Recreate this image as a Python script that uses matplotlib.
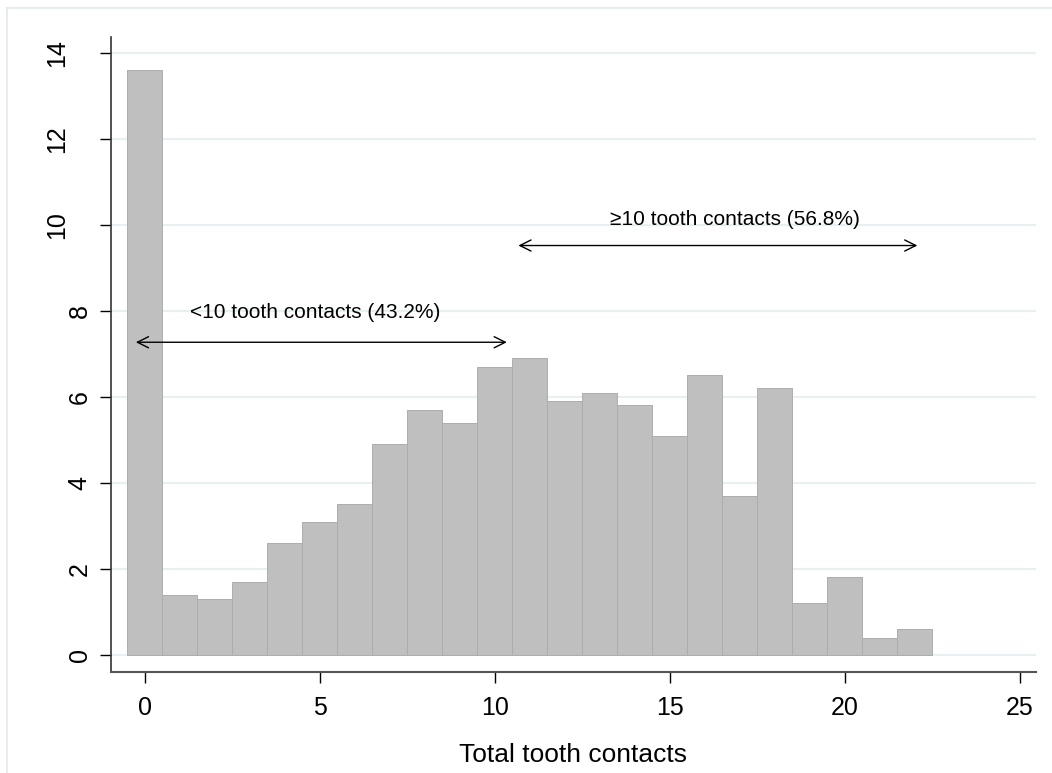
import matplotlib
matplotlib.use("Agg")
import matplotlib.pyplot as plt
from matplotlib.lines import Line2D
from matplotlib.transforms import offset_copy

plt.rcParams['font.family'] = ['Liberation Sans', 'DejaVu Sans']

# histogram of total tooth contacts (percent)
contacts = list(range(23))
percent = [13.6, 1.4, 1.3, 1.7, 2.6, 3.1, 3.5, 4.9, 5.7, 5.4, 6.7, 6.9,
           5.9, 6.1, 5.8, 5.1, 6.5, 3.7, 6.2, 1.2, 1.8, 0.4, 0.6]
xticks = [0, 5, 10, 15, 20, 25]
yticks = [0, 2, 4, 6, 8, 10, 12, 14]
label_lo = "<10 tooth contacts (43.2%)"
label_hi = "\u226510 tooth contacts (56.8%)"

fig = plt.figure(figsize=(10.52, 7.73), dpi=100)
ax = fig.add_axes([0.1055, 0.1307, 0.8793, 0.8214])

# outer graph frame (only top and left edges show)
fc = '#e3eaec'
fig.lines.append(Line2D([7/1052, 1], [1-8/773, 1-8/773], transform=fig.transFigure, color=fc, lw=1.2))
fig.lines.append(Line2D([7/1052, 7/1052], [0, 1-8/773], transform=fig.transFigure, color=fc, lw=1.2))

for y in yticks:
    ax.axhline(y, color='#e8f0f2', lw=1.6, zorder=0)

ax.bar(contacts, percent, width=1.0, color='#bfbfbf', edgecolor='#adadad',
       lw=0.7, zorder=2)

ax.set_xlim(-0.97, 25.46)
ax.set_ylim(-0.4, 14.37)
ax.set_xticks(xticks)
ax.set_yticks(yticks)
ax.tick_params(axis='y', labelrotation=90, length=8, width=1, pad=6, labelsize=18)
ax.tick_params(axis='x', length=8, width=1, pad=9, labelsize=18)
fig.canvas.draw()
for t in ax.get_yticklabels():
    t.set_va('center')
    if len(t.get_text()) > 1:
        # two-digit labels sit further from the axis
        t.set_transform(offset_copy(t.get_transform(), fig=fig, x=-22, units='dots'))

for s in ['top', 'right']:
    ax.spines[s].set_visible(False)
ax.spines['left'].set_color('#333333')
ax.spines['bottom'].set_color('#555555')
ax.spines['left'].set_linewidth(1.2)
ax.spines['bottom'].set_linewidth(1.5)

ax.set_xlabel("Total tooth contacts", fontsize=19, labelpad=17)

arr = dict(arrowstyle='<->', color='black', lw=1.0, mutation_scale=20,
           shrinkA=0, shrinkB=0)
ax.annotate('', xy=(10.34, 7.27), xytext=(-0.26, 7.27), arrowprops=arr)
ax.annotate('', xy=(22.07, 9.52), xytext=(10.67, 9.52), arrowprops=arr)
ax.text(4.87, 7.96, label_lo, ha='center', va='center', fontsize=15)
ax.text(16.87, 10.13, label_hi, ha='center', va='center', fontsize=15)

fig.savefig("out.png", dpi=100)
